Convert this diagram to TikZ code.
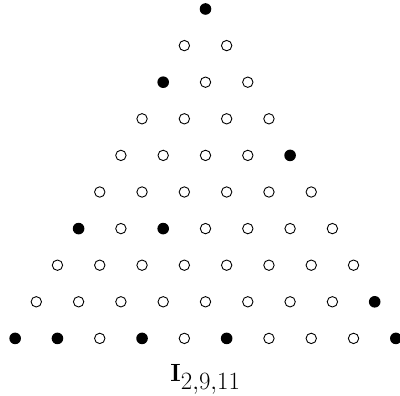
\documentclass[tikz,border=0pt]{standalone}
\begin{document}
\begin{tikzpicture}[x=1pt,y=-1pt,
  odot/.style={circle,draw=black,line width=0.9pt,fill=white,minimum size=10.4pt,inner sep=0pt},
  fdot/.style={circle,fill=black,minimum size=11.6pt,inner sep=0pt},
  lbl/.style={anchor=base,inner sep=0pt,font=\fontsize{33}{40}\selectfont}]
\useasboundingbox (0,0) rectangle (400,396);
\foreach \pat [count=\r from 0] in {{1},{0,0},{1,0,0},{0,0,0,0},{0,0,0,0,1},{0,0,0,0,0,0},{1,0,1,0,0,0,0},{0,0,0,0,0,0,0,0},{0,0,0,0,0,0,0,0,1},{1,1,0,1,0,1,0,0,0,1}}{
  \foreach \f [count=\k from 0] in \pat {
    \ifnum\f=1 \def\st{fdot}\else\def\st{odot}\fi
    \node[\st] (d-\r-\k) at ({205.5+(\k-\r/2)*42.3},{9+\r*36.6}) {};
  }
}
\node[lbl] (label) at (205.5,382) {$\mathbf{I}_{2,9,11}$};
\end{tikzpicture}
\end{document}
